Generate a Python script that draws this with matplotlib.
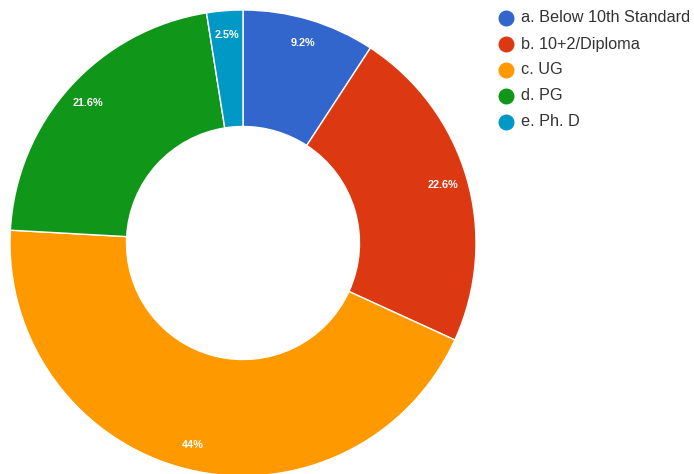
import matplotlib
matplotlib.use("Agg")
import matplotlib.pyplot as plt
from matplotlib.lines import Line2D
import numpy as np

plt.rcParams['font.family'] = ['Liberation Sans', 'DejaVu Sans']

categories = ["a. Below 10th Standard", "b. 10+2/Diploma", "c. UG", "d. PG", "e. Ph. D"]
shares = [9.2, 22.6, 44, 21.6, 2.5]
share_labels = ["9.2%", "22.6%", "44%", "21.6%", "2.5%"]
colors = ["#3366cc", "#dc3912", "#ff9900", "#109618", "#0099c6"]

W, H = 694, 474
fig = plt.figure(figsize=(W / 100, H / 100), dpi=100)

# donut: centre (243, 243) px, outer radius 233 px
cx, cy, R = 243, 243, 233
ax = fig.add_axes([(cx - R) / W, (H - cy - R) / H, 2 * R / W, 2 * R / H])
wedges, _ = ax.pie(shares, colors=colors, startangle=90, counterclock=False,
                   radius=1.0, wedgeprops=dict(width=0.5, edgecolor="white", linewidth=1.0))
ax.set_xlim(-1, 1)
ax.set_ylim(-1, 1)
ax.set_aspect("equal")
ax.axis("off")

total = sum(shares)
start = 90.0
for val, lab in zip(shares, share_labels):
    mid = start - val / total * 360 / 2
    start -= val / total * 360
    a = np.deg2rad(mid)
    r = 0.895
    ax.text(r * np.cos(a), r * np.sin(a), lab, ha="center", va="center",
            color="white", fontsize=7.8, fontweight="bold")

# legend
rows_y = [18, 44, 70, 96, 122]
for lab, col, y in zip(categories, colors, rows_y):
    fig.add_artist(Line2D([506 / W], [1 - y / H], marker="o", markersize=10.5,
                          color=col, transform=fig.transFigure, linestyle="none"))
    fig.text(521 / W, 1 - y / H, lab, ha="left", va="center",
             fontsize=11.7, color="#333333")

fig.savefig("out.png", dpi=100)
